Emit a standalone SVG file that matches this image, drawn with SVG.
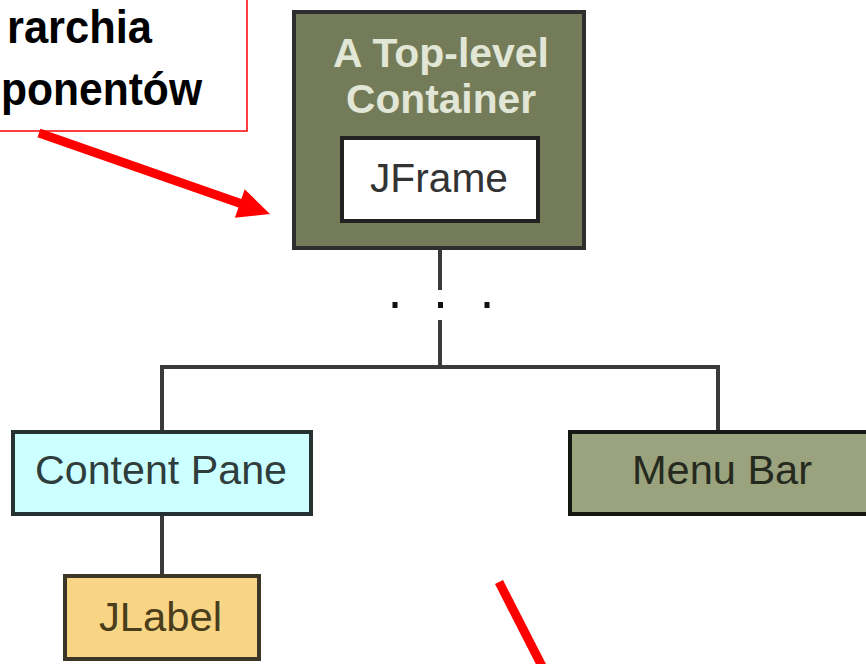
<svg xmlns="http://www.w3.org/2000/svg" width="866" height="664" viewBox="0 0 866 664">
  <style>
    .lbl { font-family: "Liberation Sans", Arial, sans-serif; font-size: 40px; text-anchor: middle; }
    .conn { stroke: #3a3a3a; stroke-width: 4; fill: none; }
    .callout { font-family: "Liberation Sans", Arial, sans-serif; font-weight: bold; font-size: 47px; fill: #000; }
    .red { stroke: #ff0000; fill: none; }
  </style>
  <rect x="0" y="0" width="866" height="664" fill="#ffffff"/>

  <g id="callout">
    <rect x="-10" y="-10" width="257" height="141" fill="#ffffff" stroke="#ff0000" stroke-width="1.5"/>
    <text class="callout" x="7" y="43" textLength="145" lengthAdjust="spacingAndGlyphs">rarchia</text>
    <text class="callout" x="1" y="105" textLength="201" lengthAdjust="spacingAndGlyphs">ponentów</text>
  </g>

  <g id="connectors">
    <line class="conn" x1="440" y1="250" x2="440" y2="290"/>
    <line class="conn" x1="440" y1="320" x2="440" y2="367"/>
    <rect x="392.5" y="302" width="5" height="6" fill="#111"/>
    <rect x="438" y="302" width="5" height="6" fill="#111"/>
    <rect x="484.5" y="302" width="5" height="6" fill="#111"/>
    <polyline class="conn" points="162,431 162,367 718,367 718,431"/>
    <line class="conn" x1="162" y1="514" x2="162" y2="576"/>
  </g>

  <g id="top-container">
    <rect x="294" y="12" width="290" height="236" fill="#747b58" stroke="#2e2e2e" stroke-width="4"/>
    <text class="lbl" x="441" y="67" font-weight="bold" fill="#e2e6d6" textLength="216" lengthAdjust="spacingAndGlyphs">A Top-level</text>
    <text class="lbl" x="441" y="113" font-weight="bold" fill="#e2e6d6" textLength="190" lengthAdjust="spacingAndGlyphs">Container</text>
  </g>

  <g id="jframe">
    <rect x="342" y="138" width="196" height="83" fill="#ffffff" stroke="#222222" stroke-width="4"/>
    <text class="lbl" x="439" y="192" fill="#333333" textLength="138" lengthAdjust="spacingAndGlyphs">JFrame</text>
  </g>

  <g id="content-pane">
    <rect x="13" y="432" width="298" height="82" fill="#ccffff" stroke="#263232" stroke-width="4"/>
    <text class="lbl" x="161" y="484" fill="#2f3d3d" textLength="252" lengthAdjust="spacingAndGlyphs">Content Pane</text>
  </g>

  <g id="menu-bar">
    <rect x="570" y="432" width="310" height="82" fill="#9aa37e" stroke="#151712" stroke-width="4"/>
    <text class="lbl" x="722" y="484" fill="#262a1e" textLength="180" lengthAdjust="spacingAndGlyphs">Menu Bar</text>
  </g>

  <g id="jlabel">
    <rect x="65" y="576" width="194" height="83" fill="#f7d584" stroke="#3b3628" stroke-width="4"/>
    <text class="lbl" x="160.5" y="631" fill="#4a3d1c" textLength="123" lengthAdjust="spacingAndGlyphs">JLabel</text>
  </g>

  <g id="arrows">
    <line class="red" x1="39" y1="133" x2="242" y2="204" stroke-width="9"/>
    <polygon points="270,214 234.9,217.7 244.7,189.3" fill="#ff0000"/>
    <line class="red" x1="499" y1="582" x2="546" y2="674" stroke-width="9"/>
  </g>
</svg>
